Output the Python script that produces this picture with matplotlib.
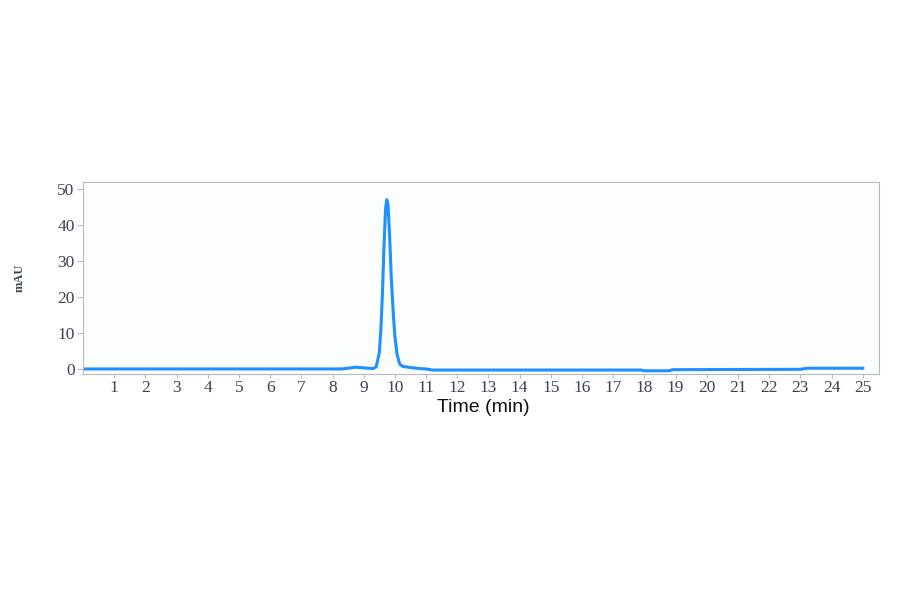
import numpy as np
import matplotlib
matplotlib.use("Agg")
import matplotlib.pyplot as plt

# chromatogram (time in min, signal in mAU)
time_min = [0.0, 8.3, 8.5, 8.75, 9.0, 9.3, 9.4, 9.5, 9.55, 9.6, 9.65, 9.7, 9.74,
            9.78, 9.83, 9.88, 9.95, 10.0, 10.07, 10.15, 10.25, 10.5, 10.8, 11.0,
            11.2, 12.0, 17.9, 18.0, 18.8, 18.9, 23.0, 23.2, 25.0]
signal_mau = [0.0, 0.0, 0.2, 0.5, 0.3, 0.1, 0.6, 4.5, 11.0, 21.0, 34.0, 44.5, 47.0,
              45.5, 37.0, 26.0, 15.0, 9.0, 4.0, 1.4, 0.7, 0.4, 0.1, 0.0,
              -0.3, -0.3, -0.3, -0.5, -0.5, -0.2, -0.1, 0.2, 0.2]
x_ticks = list(range(1, 26))
y_ticks = [0, 10, 20, 30, 40, 50]

TICK_COLOR = "#3d4250"
SPINE_COLOR = "#b4b9c2"

fig = plt.figure(figsize=(9, 5.94), dpi=100)
ax = fig.add_axes([83 / 900, 1 - 374 / 594, (879 - 83) / 900, (374 - 182) / 594])
ax.set_facecolor("#fcfdfd")

ax.plot(time_min, signal_mau, color="#1e90ff", lw=2.2)

ax.set_xlim(0, 25.52)
ax.set_ylim(-1.4, 51.9)
ax.set_xticks(x_ticks)
ax.set_yticks(y_ticks)

for lab in ax.get_xticklabels() + ax.get_yticklabels():
    lab.set_family("Liberation Serif")
    lab.set_fontsize(12.5)
    lab.set_color(TICK_COLOR)
ax.tick_params(axis="x", length=3, width=0.8, color=SPINE_COLOR, pad=1)
ax.tick_params(axis="y", length=4, width=0.8, color=SPINE_COLOR, pad=2)

for sp in ax.spines.values():
    sp.set_color(SPINE_COLOR)
    sp.set_linewidth(0.8)

fig.text(20 / 900, 1 - 278 / 594, "mAU", rotation=90, ha="center", va="center",
         family="Liberation Serif", fontweight="bold", fontsize=9, color=TICK_COLOR)
fig.text(483 / 900, 1 - 408 / 594, "Time (min)", ha="center", va="center",
         family="Liberation Sans", fontsize=14, color="#111111")

fig.savefig("out.png", dpi=100)
